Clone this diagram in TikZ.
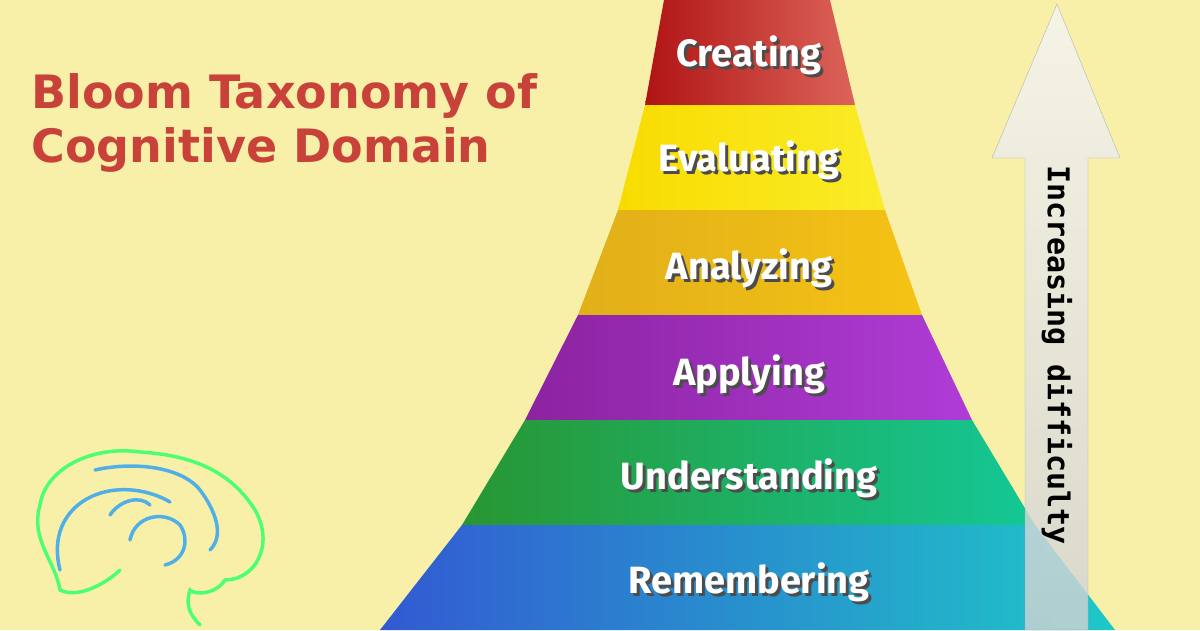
\documentclass[tikz,border=0pt]{standalone}
\usepackage{fontspec}
\setmainfont{DejaVu Sans}
\newfontfamily\layerfont{Fira Sans}
\newfontfamily\monof{DejaVu Sans Mono}
\begin{document}
\begin{tikzpicture}[x=1pt,y=-1pt,
 lab/.style={text=white,font=\layerfont\bfseries\fontsize{38}{38}\selectfont},
 shad/.style={text=black!70,font=\layerfont\bfseries\fontsize{38}{38}\selectfont}]
\definecolor{bg}{HTML}{F8F0A8}
\definecolor{titlered}{HTML}{C8423A}
\fill[bg] (0,0) rectangle (1200,630);
\useasboundingbox (0,0) rectangle (1200,630);
% layers
\shade[left color={rgb,255:red,176;green,20;blue,20},right color={rgb,255:red,220;green,100;blue,90}] (664,0)--(830,0)--(855,105)--(645,105)--cycle;
\shade[left color={rgb,255:red,248;green,220;blue,0},right color={rgb,255:red,250;green,236;blue,40}] (645,105)--(855,105)--(885,210)--(618,210)--cycle;
\shade[left color={rgb,255:red,225;green,175;blue,25},right color={rgb,255:red,245;green,195;blue,20}] (618,210)--(885,210)--(922,315)--(578,315)--cycle;
\shade[left color={rgb,255:red,140;green,35;blue,160},right color={rgb,255:red,175;green,60;blue,215}] (578,315)--(922,315)--(972,420)--(525,420)--cycle;
\shade[left color={rgb,255:red,40;green,150;blue,50},right color={rgb,255:red,20;green,200;blue,150}] (525,420)--(972,420)--(1035,525)--(462,525)--cycle;
\shade[left color={rgb,255:red,50;green,90;blue,210},right color={rgb,255:red,30;green,200;blue,200}] (462,525)--(1035,525)--(1115,630)--(380,630)--cycle;
\foreach \t/\y in {Creating/55,Evaluating/160,Analyzing/268,Applying/374,Understanding/478,Remembering/582}{
 \node[shad] at (752,\y+3) {\t};
 \node[lab] (n\t) at (749,\y) {\t};}
% arrow
\shade[top color=gray!8,bottom color=gray!35,opacity=0.8,draw=gray!70]
 (1057,4)--(1120,158)--(1088,158)--(1088,630)--(1025,630)--(1025,158)--(992,158)--cycle;
\node[rotate=-90,font=\monof\bfseries\fontsize{30}{30}\selectfont] (arr) at (1057,355) {Increasing difficulty};
% title
\node[text=titlered,font=\bfseries\fontsize{46}{54}\selectfont,align=left,anchor=north west] (title) at (28,70) {Bloom Taxonomy of\\Cognitive Domain};
% brain
\begin{scope}[line width=3.5pt,line cap=round]
\draw[green!80!cyan!70] (60,590) .. controls (55,560) and (30,540) .. (40,505)
 .. controls (45,470) and (90,445) .. (140,452) .. controls (190,455) and (230,470) .. (255,510)
 .. controls (275,545) and (255,580) .. (225,580) .. controls (215,595) and (195,595) .. (190,590)
 .. controls (185,605) and (190,615) .. (200,625);
\draw[green!80!cyan!70] (60,590) .. controls (80,600) and (110,580) .. (120,570);
\draw[cyan!80!blue!70] (60,570) .. controls (50,530) and (70,505) .. (95,495)
 .. controls (120,485) and (150,490) .. (170,502);
\draw[cyan!80!blue!70] (95,470) .. controls (130,462) and (180,465) .. (200,490)
 .. controls (215,510) and (225,535) .. (210,550);
\draw[cyan!80!blue!70] (130,540) .. controls (135,515) and (165,510) .. (180,525)
 .. controls (190,540) and (185,560) .. (165,565);
\draw[cyan!80!blue!70] (110,515) .. controls (120,500) and (140,495) .. (150,505);
\end{scope}
\end{tikzpicture}
\end{document}
